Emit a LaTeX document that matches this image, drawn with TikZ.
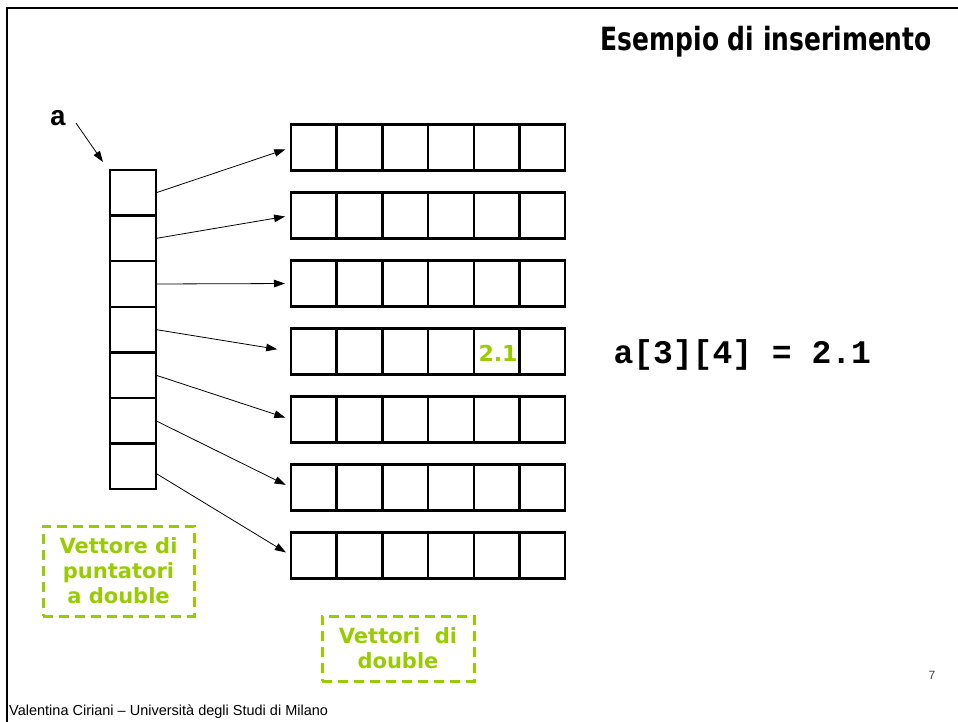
\documentclass[tikz,border=0pt]{standalone}
\usepackage{fontspec}
\setmainfont{DejaVu Sans}
\newfontfamily\monof{Liberation Mono}
\newfontfamily\arialf{Liberation Sans}
\usetikzlibrary{arrows.meta}
\definecolor{lime}{RGB}{153,204,0}
\begin{document}
\begin{tikzpicture}[x=1pt,y=-1pt,
  cell/.style={draw,line width=2.5pt,minimum width=45.7pt,minimum height=45.6pt,inner sep=0pt,outer sep=0pt},
  ptr/.style={-{Triangle[length=11pt,width=7.5pt]},line width=0.8pt,shorten >=6pt},
  gbox/.style={draw=lime,dash pattern=on 10pt off 6pt,line width=3pt,text=lime,font=\bfseries\fontsize{21}{25}\selectfont,align=center,inner sep=0pt},
  frame/.style={line width=2.5pt}
]
\useasboundingbox (0,0) rectangle (958,722);
% frame
\coordinate (fb) at (7,722);
\coordinate (ft) at (7,8);
\coordinate (fr) at (958,8);
\draw[frame] (fb) -- (ft) -- (fr);
% title
\node[anchor=east,inner sep=0pt,font=\bfseries\fontsize{32}{34}\selectfont] (title) at (932,42) {\scalebox{0.78}[1]{Esempio di inserimento}};
% pointer column
\foreach \i in {1,...,7} {
  \node[cell,minimum width=46pt] (p\i) at (133,{170+45.6*(\i-0.5)}) {};
}
% rows
\foreach \r in {1,...,7} {
  \foreach \c in {1,...,6} {
    \node[cell] (r\r c\c) at ({291+45.7*(\c-0.5)},{147.5+68*(\r-1)}) {};
  }
}
% arrows
\foreach \i in {1,2,3,5,6} {
  \draw[ptr] (p\i.east) -- (r\i c1.west);
}
\draw[ptr,shorten >=14pt] (p4.east) -- (r4c1.west);
\draw[ptr] ([yshift=-7pt]p7.east) -- (r7c1.west);
% label a
\node[font=\monof\bfseries\fontsize{28}{30}\selectfont] (alabel) at (58,118) {a};
\draw[-{Triangle[length=11pt,width=7.5pt]},line width=0.8pt] ([xshift=6pt,yshift=-5pt]alabel.east) -- ([xshift=-7pt,yshift=8pt]p1.north west);
% value
\node[text=lime,font=\bfseries\fontsize{22}{24}\selectfont] (val) at (498,353) {2.1};
% expression
\node[anchor=west,font=\monof\bfseries\fontsize{33}{35}\selectfont] (expr) at (610,355) {a[3][4] = 2.1};
% green boxes
\node[gbox,minimum width=151pt,minimum height=90pt] (g1) at (118.5,571) {Vettore di\\puntatori\\a double};
\node[gbox,minimum width=152pt,minimum height=65pt] (g2) at (398,648.5) {Vettori~~di\\double};
% footer
\node[anchor=west,inner sep=0pt,font=\arialf\fontsize{14.5}{16}\selectfont] (foot) at (9,712) {Valentina Ciriani – Università degli Studi di Milano};
\node[text=black!75,font=\arialf\fontsize{12}{14}\selectfont] (pg) at (932,675) {7};
\end{tikzpicture}
\end{document}
